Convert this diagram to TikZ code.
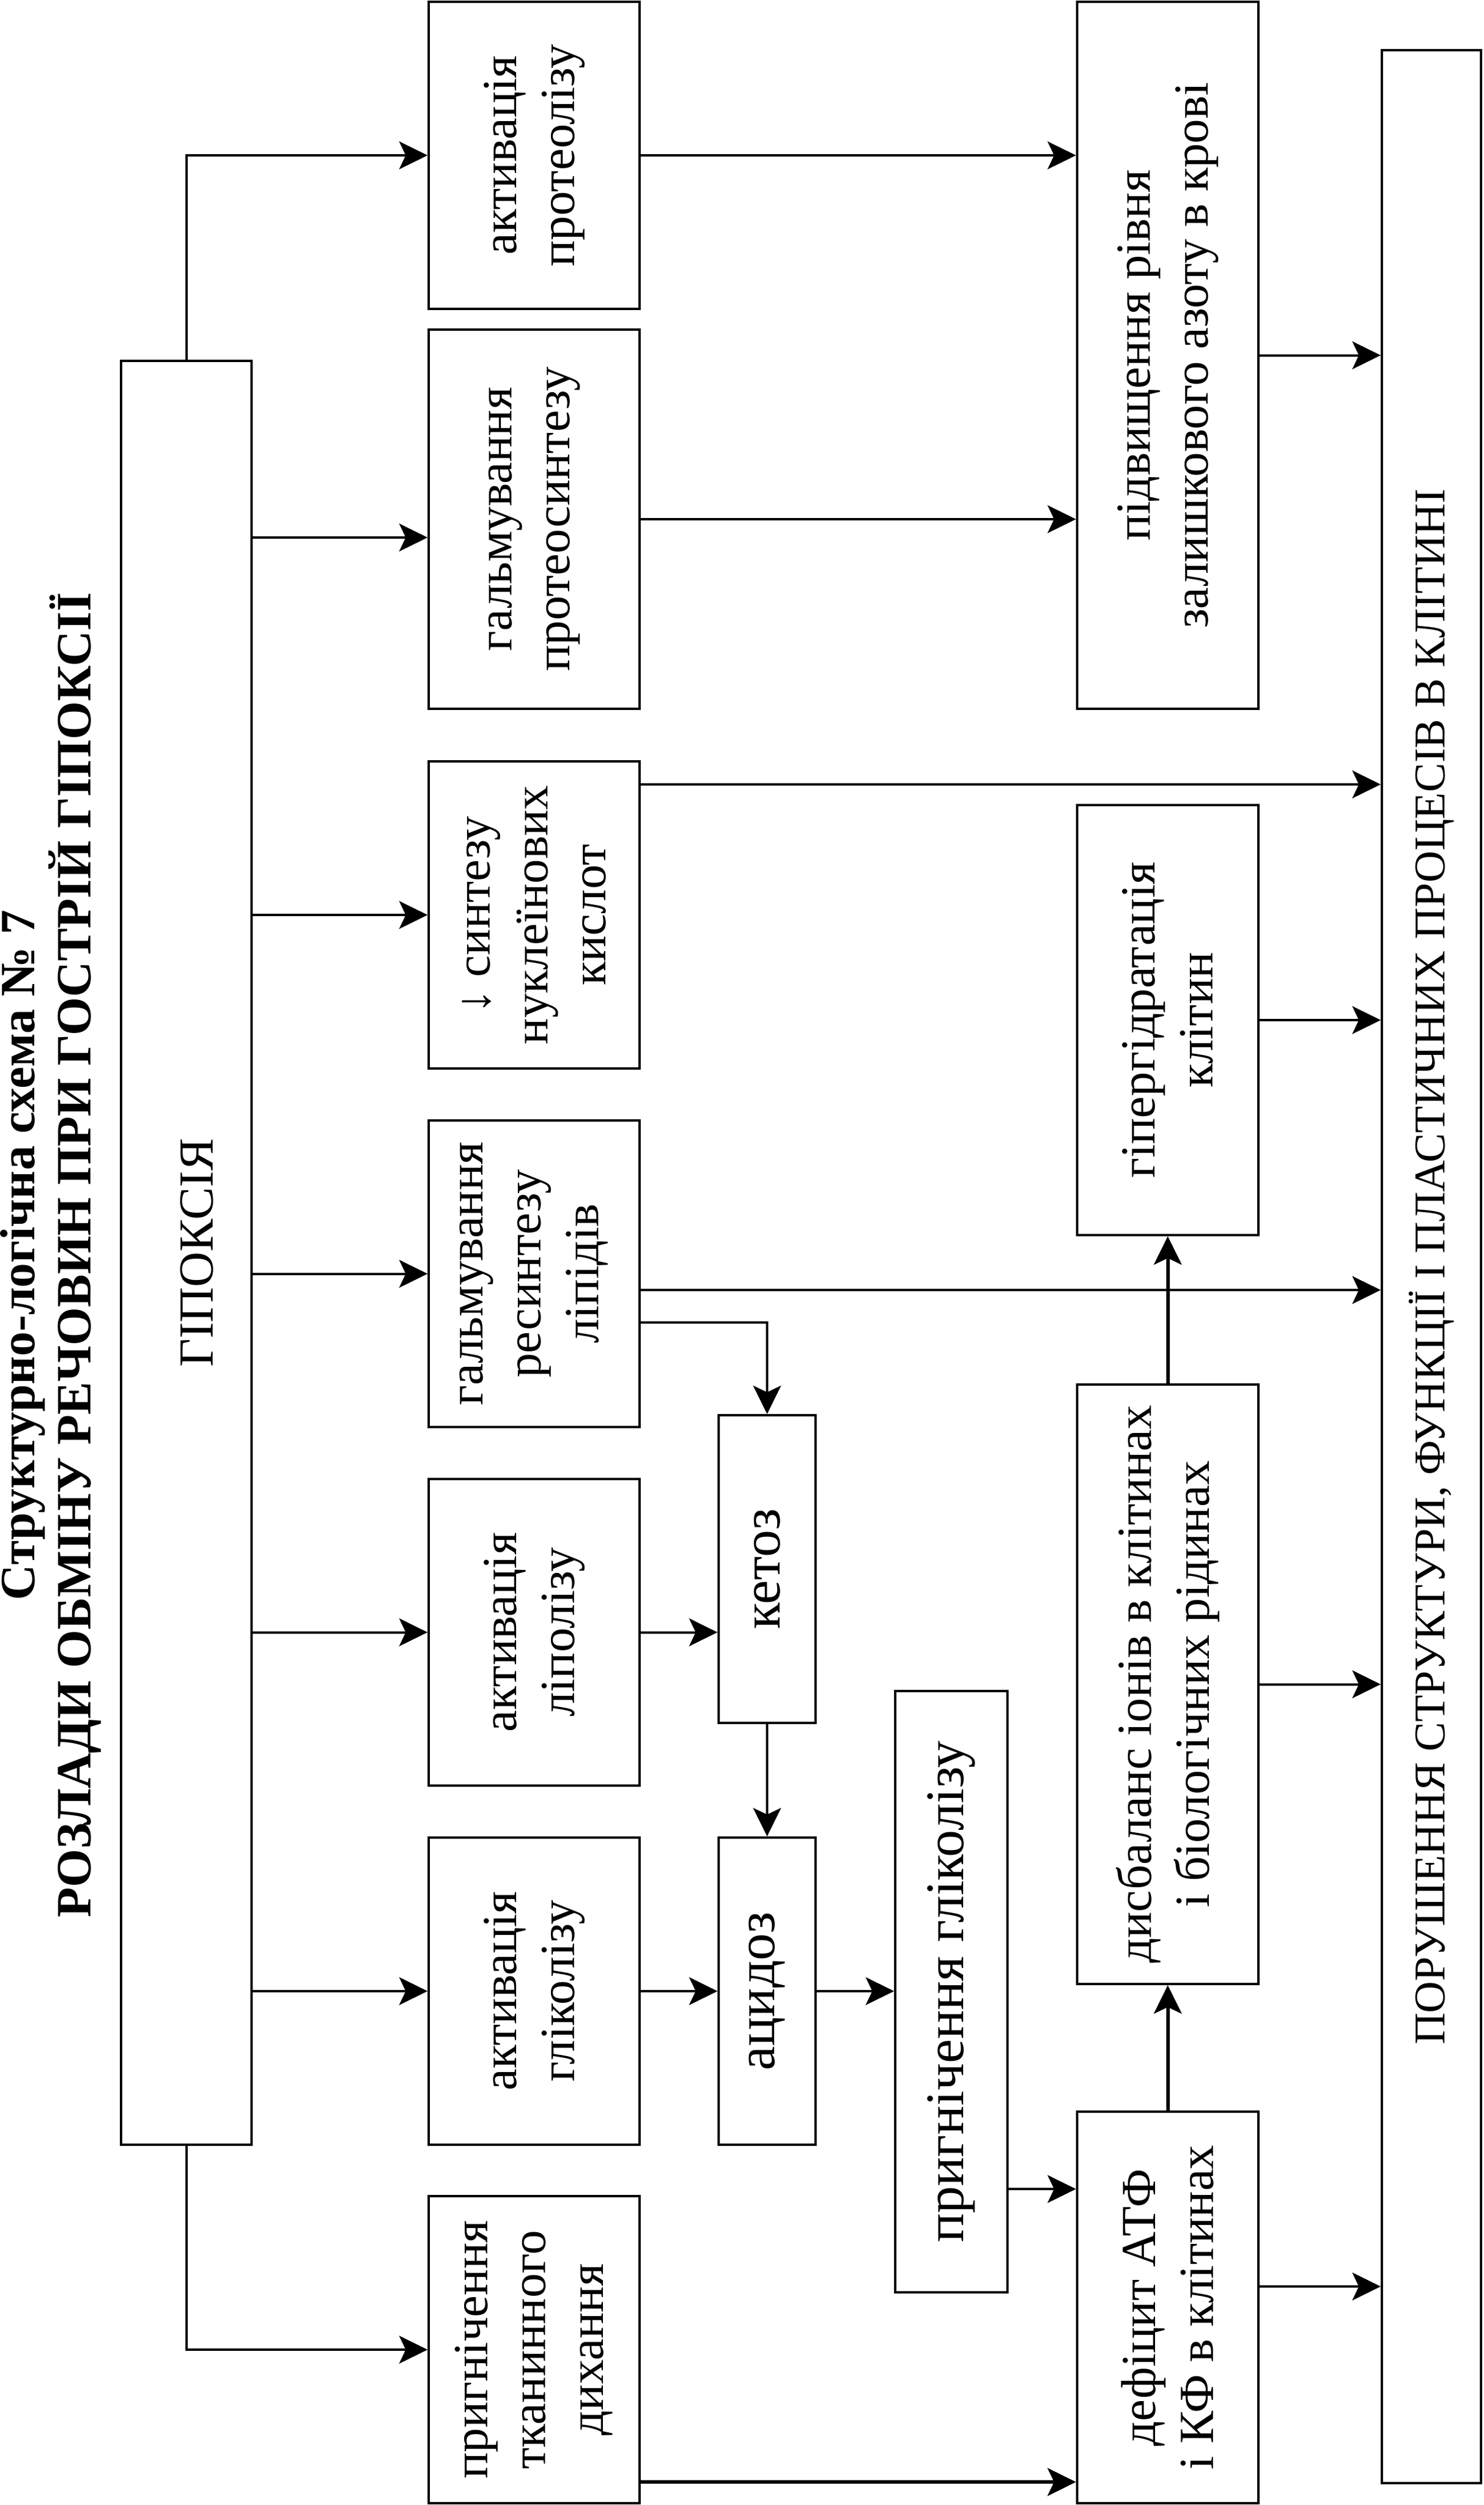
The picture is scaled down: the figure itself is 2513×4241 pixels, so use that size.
\documentclass[tikz,border=0pt]{standalone}
\usepackage{fontspec}
\setmainfont{Liberation Serif}
\usetikzlibrary{arrows.meta,fit}
\tikzset{
  box/.style={draw, line width=0.8pt, inner sep=0pt},
  txt/.style={rotate=90, align=center, inner sep=0pt, font=\fontsize{16.6pt}{19.6pt}\selectfont},
  bigtxt/.style={txt, font=\fontsize{18.4pt}{21pt}\selectfont},
  smalltxt/.style={txt, font=\fontsize{14.9pt}{18pt}\selectfont},
  arr/.style={line width=0.8pt, -{Stealth[length=9.6pt,width=9.4pt,inset=2.2pt]}},
  thickarr/.style={arr, line width=1.2pt},
}
\begin{document}
\begin{tikzpicture}[x=0.2pt,y=-0.2pt]
\useasboundingbox (0,0) rectangle (2513,4241);
% title
\node[txt, font=\bfseries\fontsize{16.7pt}{19pt}\selectfont] (title) at (86,2125)
  {Структурно-логічна схема № 7\\РОЗЛАДИ ОБМІНУ РЕЧОВИН ПРИ ГОСТРІЙ ГІПОКСІЇ};
% boxes
\node[box, fit={(205,611) (426,3631)}, label={[txt, yshift=-3.6pt]center:{ГІПОКСІЯ}}] (hyp) {};
\node[box, fit={(726,3) (1083,523)}, label={[txt]center:{активація\\протеолізу}}] (prot) {};
\node[box, fit={(726,558) (1083,1200)}, label={[txt]center:{гальмування\\протеосинтезу}}] (protsyn) {};
\node[box, fit={(726,1289) (1083,1809)}, label={[txt]center:{↓ синтезу\\нуклеїнових\\кислот}}] (nucl) {};
\node[box, fit={(726,1897) (1083,2416)}, label={[txt]center:{гальмування\\ресинтезу\\ліпідів}}] (resyn) {};
\node[box, fit={(726,2504) (1083,3023)}, label={[txt]center:{активація\\ліполізу}}] (lipol) {};
\node[box, fit={(726,3111) (1083,3631)}, label={[txt]center:{активація\\гліколізу}}] (glycol) {};
\node[box, fit={(726,3718) (1083,4238)}, label={[txt]center:{пригнічення\\тканинного\\дихання}}] (resp) {};
\node[box, fit={(1217,2396) (1381,2917)}, label={[bigtxt]center:{кетоз}}] (ketoz) {};
\node[box, fit={(1217,3111) (1381,3631)}, label={[bigtxt]center:{ацидоз}}] (acid) {};
\node[box, fit={(1516,2863) (1706,3881)}, label={[bigtxt]center:{пригнічення гліколізу}}] (glinh) {};
\node[box, fit={(1824,3) (2131,1200)}, label={[txt]center:{підвищення рівня\\залишкового азоту в крові}}] (nitro) {};
\node[box, fit={(1824,1363) (2131,2091)}, label={[txt]center:{гіпергідратація\\клітин}}] (hyper) {};
\node[box, fit={(1824,2344) (2131,3359)}, label={[txt]center:{дисбаланс іонів в клітинах\\і біологічних рідинах}}] (ion) {};
\node[box, fit={(1824,3575) (2131,4238)}, label={[txt]center:{дефіцит АТФ\\і КФ в клітинах}}] (atp) {};
\node[box, fit={(2340,85) (2508,4204)}, label={[smalltxt]center:{ПОРУШЕННЯ СТРУКТУРИ, ФУНКЦІЇ І ПЛАСТИЧНИХ ПРОЦЕСІВ В КЛІТИНІ}}] (fail) {};
% connectors from ГІПОКСІЯ
\draw[arr] (hyp.north) |- (prot.west);
\draw[arr] (hyp.east |- 0,910) -- (protsyn.west |- 0,910);
\draw[arr] (hyp.east |- nucl) -- (nucl.west);
\draw[arr] (hyp.east |- resyn) -- (resyn.west);
\draw[arr] (hyp.east |- lipol) -- (lipol.west);
\draw[arr] (hyp.east |- glycol) -- (glycol.west);
\draw[arr] (hyp.south) |- (resp.west);
% middle connectors
\draw[arr] (prot.east) -- (nitro.west |- prot.east);
\draw[arr] (protsyn.east) -- (nitro.west |- protsyn.east);
\draw[arr] (nitro.east) -- (fail.west |- nitro.east);
\draw[arr] (nucl.east |- 0,1328) -- (fail.west |- 0,1328);
\draw[arr] (hyper.east) -- (fail.west |- hyper.east);
\draw[arr] (resyn.east |- 0,2184) -- (fail.west |- 0,2184);
\draw[arr] (resyn.east |- 0,2239) -| (ketoz.north);
\draw[arr] (lipol.east) -- (ketoz.west |- lipol.east);
\draw[arr] (ketoz.south) -- (acid.north);
\draw[arr] (glycol.east) -- (acid.west);
\draw[arr] (acid.east) -- (glinh.west |- acid.east);
\draw[arr] (glinh.east |- 0,3706) -- (atp.west |- 0,3706);
\draw[thickarr] (resp.east |- 0,4202) -- (atp.west |- 0,4202);
\draw[thickarr] (atp.north) -- (ion.south);
\draw[thickarr] (ion.north) -- (hyper.south);
\draw[arr] (ion.east) -- (fail.west |- ion.east);
\draw[arr] (atp.east |- 0,3871) -- (fail.west |- 0,3871);
\end{tikzpicture}
\end{document}
